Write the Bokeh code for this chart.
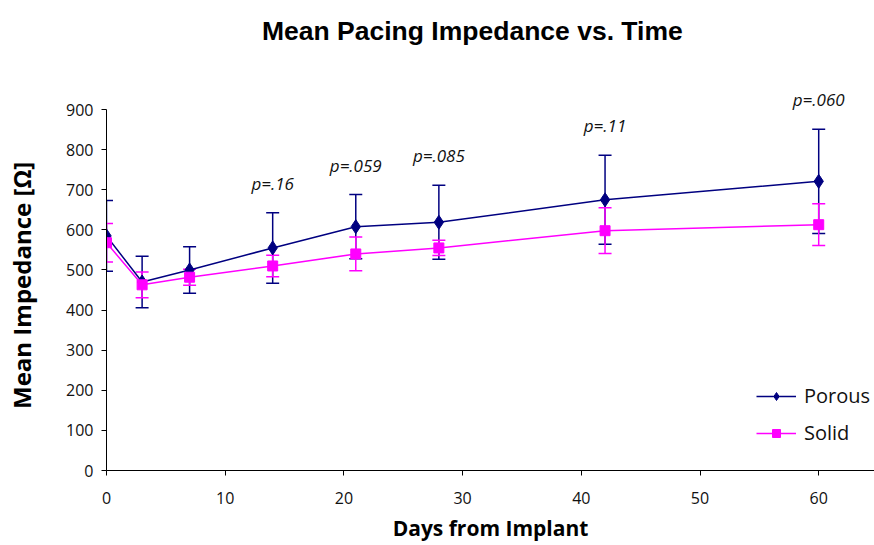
from bokeh.plotting import figure
from bokeh.models import Range1d, Whisker, TeeHead, ColumnDataSource, Legend, LegendItem, FixedTicker, LabelSet, Label
from bokeh.core.properties import value
from bokeh.embed import file_html
from bokeh.resources import INLINE

days = [0, 3, 7, 14, 21, 28, 42, 60]
porous_mean = [585, 470, 500, 555, 608, 619, 675, 721]
porous_sd = [88, 64, 58, 88, 80, 92, 111, 130]
solid_mean = [568, 463, 482, 510, 540, 555, 598, 613]
solid_sd = [48, 32, 20, 27, 42, 19, 57, 52]
p_days = [14, 21, 28, 42, 60]
p_labels = ["p=.16", "p=.059", "p=.085", "p=.11", "p=.060"]
TITLE = "Mean Pacing Impedance vs. Time"
Y_LABEL = "Mean Impedance [Ω]"
X_LABEL = "Days from Implant"

NAVY = "#000080"
MAG = "#FF00FF"
FONT = "Open Sans"

# frame reaches the top of the canvas so the title (drawn as a label) is not clipped
p = figure(width=874, height=545, output_backend="svg", toolbar_location=None, title=None,
           x_range=Range1d(0, 64.7), y_range=Range1d(0, 1172),
           min_border_left=106, min_border_right=0, min_border_top=0, min_border_bottom=75)
p.outline_line_color = None
p.xgrid.visible = False
p.ygrid.visible = False

title = Label(x=13.1, y=1095, text=TITLE,
              text_font="Liberation Sans", text_font_size="26.5px", text_font_style="bold",
              text_color="#000000", text_align="left", text_baseline="alphabetic")
p.add_layout(title)

for ax in (p.xaxis[0], p.yaxis[0]):
    ax.axis_line_color = "#000000"
    ax.major_tick_line_color = "#000000"
    ax.major_tick_in = 0
    ax.major_tick_out = 5
    ax.minor_tick_line_color = None
    ax.major_label_text_font = FONT
    ax.major_label_text_font_size = "16px"
    ax.major_label_text_color = "#111111"
    ax.axis_label_text_font = FONT
    ax.axis_label_text_font_style = "bold"
    ax.axis_label_text_color = "#000000"

p.xaxis.axis_label_text_font_size = "21px"
p.yaxis.axis_label_text_font_size = "24px"
p.xaxis.ticker = FixedTicker(ticks=[0, 10, 20, 30, 40, 50, 60])
p.yaxis.ticker = FixedTicker(ticks=list(range(0, 1000, 100)))
p.yaxis.bounds = (0, 900)
p.xaxis.axis_label = X_LABEL
# trailing non-breaking spaces shift the rotated label down to sit beside the 0-900 axis
p.yaxis.axis_label = Y_LABEL + "\u00a0" * 16
p.xaxis.major_label_standoff = 16
p.yaxis.major_label_standoff = 8
p.xaxis.axis_label_standoff = 7
p.yaxis.axis_label_standoff = 25

src_p = ColumnDataSource(dict(x=days, y=porous_mean,
                              lo=[m - s for m, s in zip(porous_mean, porous_sd)],
                              hi=[m + s for m, s in zip(porous_mean, porous_sd)]))
src_s = ColumnDataSource(dict(x=days, y=solid_mean,
                              lo=[m - s for m, s in zip(solid_mean, solid_sd)],
                              hi=[m + s for m, s in zip(solid_mean, solid_sd)]))

wp = Whisker(source=src_p, base="x", lower="lo", upper="hi", line_color=NAVY, line_width=1.5,
             upper_head=TeeHead(size=13, line_color=NAVY, line_width=1.5),
             lower_head=TeeHead(size=13, line_color=NAVY, line_width=1.5))
p.add_layout(wp)
lp = p.line("x", "y", source=src_p, line_color=NAVY, line_width=1.5)
mp = p.scatter("x", "y", source=src_p, marker="diamond", size=14, fill_color=NAVY, line_color=NAVY)

ws = Whisker(source=src_s, base="x", lower="lo", upper="hi", line_color=MAG, line_width=1.5,
             upper_head=TeeHead(size=13, line_color=MAG, line_width=1.5),
             lower_head=TeeHead(size=13, line_color=MAG, line_width=1.5))
p.add_layout(ws)
ls = p.line("x", "y", source=src_s, line_color=MAG, line_width=1.5)
ms = p.scatter("x", "y", source=src_s, marker="square", size=10, fill_color=MAG, line_color=MAG)

hi_map = dict(zip(days, src_p.data["hi"]))
src_lab = ColumnDataSource(dict(x=p_days, y=[hi_map[d] for d in p_days], t=p_labels))
labels = LabelSet(x="x", y="y", text="t", source=src_lab, text_align="center", text_baseline="bottom",
                  y_offset=18, text_font=value(FONT), text_font_style="italic",
                  text_font_size=value("17px"), text_color="#111111")
p.add_layout(labels)

legend = Legend(items=[LegendItem(label="Porous", renderers=[lp, mp]),
                       LegendItem(label="Solid", renderers=[ls, ms])],
                location=(650, 24), orientation="vertical")
legend.background_fill_alpha = 0
legend.border_line_color = None
legend.label_text_font = FONT
legend.label_text_font_size = "20px"
legend.label_text_color = "#111111"
legend.glyph_width = 40
legend.glyph_height = 20
legend.label_height = 22
legend.spacing = 10
legend.padding = 0
legend.margin = 0
legend.label_standoff = 8
p.add_layout(legend)

open("out.html", "w").write(file_html(p, INLINE))
